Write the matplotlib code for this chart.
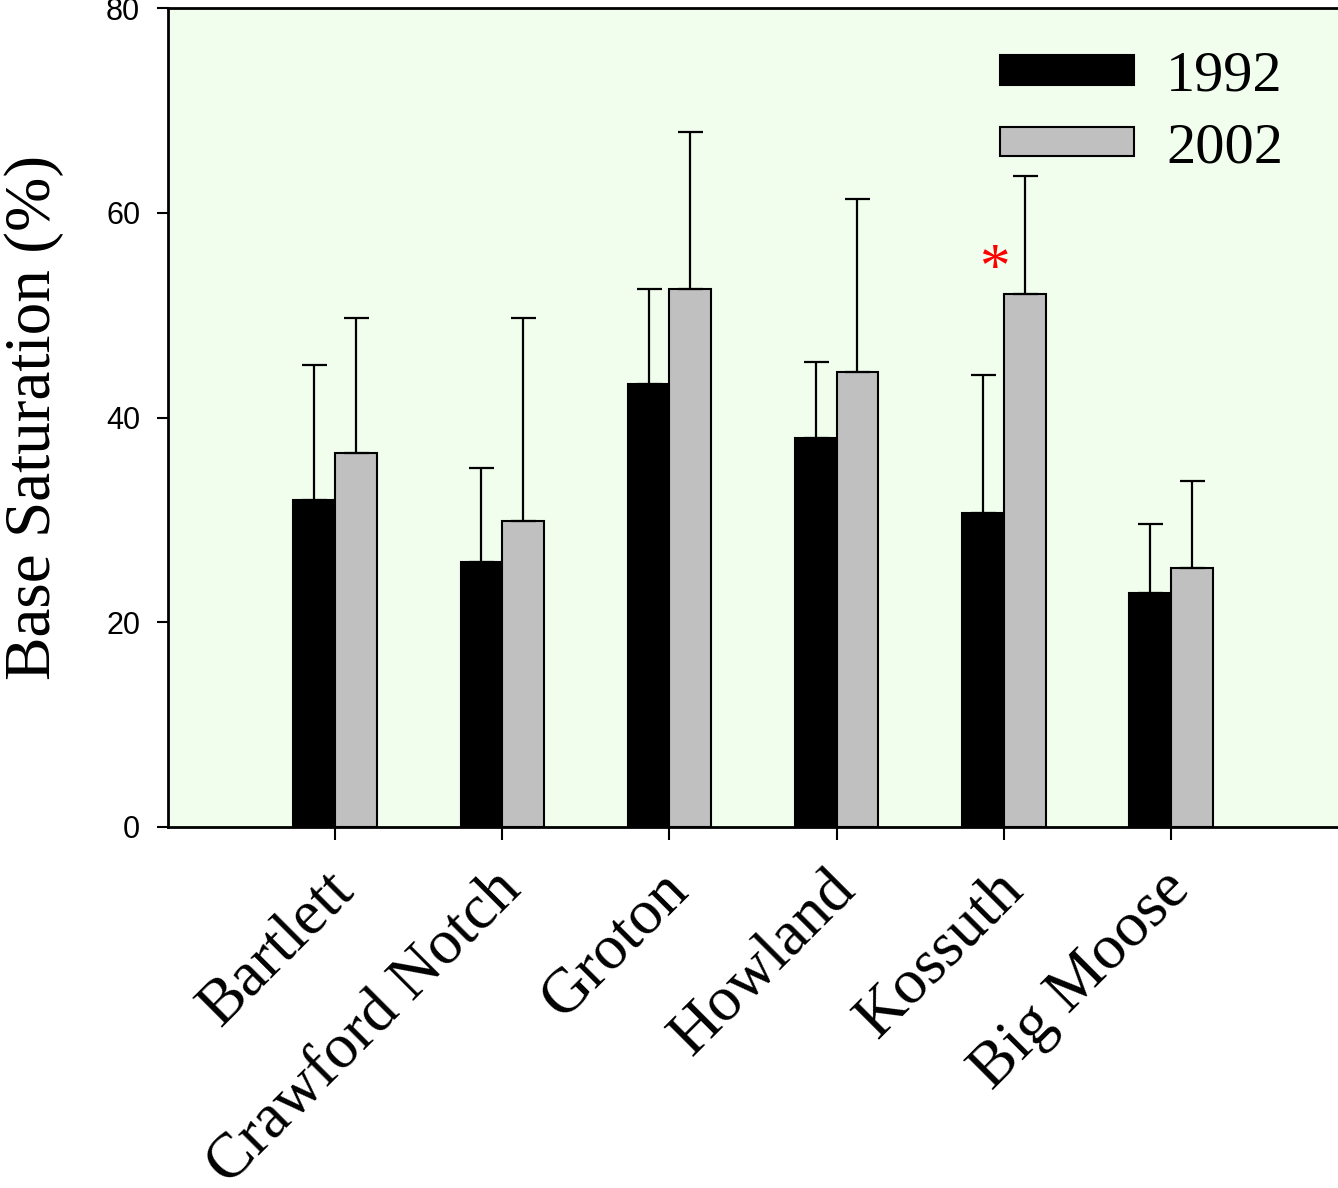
import numpy as np
from matplotlib import pyplot as plt
from matplotlib.patches import Patch
from matplotlib.transforms import ScaledTranslation

# Base saturation by site
sites = ['Bartlett', 'Crawford Notch', 'Groton', 'Howland', 'Kossuth', 'Big Moose']
bs_1992 = [31.9, 25.9, 43.3, 38.0, 30.7, 22.9]
err_1992 = [13.2, 9.2, 9.3, 7.4, 13.5, 6.7]
bs_2002 = [36.5, 29.9, 52.6, 44.4, 52.1, 25.3]
err_2002 = [13.2, 19.8, 15.3, 16.9, 11.5, 8.5]
yticks = [0, 20, 40, 60, 80]

serif = 'Liberation Serif'
sans = 'Liberation Sans'

fig = plt.figure(figsize=(13.38, 11.88), dpi=100)
ax = fig.add_axes([168 / 1338, 1 - 827 / 1188, 1 - 168 / 1338, (827 - 8) / 1188])
ax.set_facecolor('#F1FEEE')

x = np.arange(1, len(sites) + 1)
w = 0.25
ekw = dict(ecolor='black', elinewidth=1.6, capsize=9, capthick=1.6)
ax.bar(x - w / 2, bs_1992, w, color='black', edgecolor='black', linewidth=1.5,
       yerr=[np.zeros(len(sites)), err_1992], error_kw=ekw, zorder=2)
ax.bar(x + w / 2, bs_2002, w, color='#C0C0C0', edgecolor='black', linewidth=1.5,
       yerr=[np.zeros(len(sites)), err_2002], error_kw=ekw, zorder=2)

# significance marker
ax.text(4.946, 54.4, '*', color='red', fontsize=44, family=serif,
        ha='center', va='center')

ax.set_xlim(0, 7)
ax.set_ylim(0, 80)
ax.set_xticks(x)
ax.set_xticklabels(sites, rotation=45, ha='right', va='center',
                   rotation_mode='anchor', family=serif, fontsize=46)
ax.tick_params(axis='x', direction='out', length=9, width=1.5, pad=28)
# nudge the rotated labels a little to the right
shift = ScaledTranslation(0.1, -0.03, fig.dpi_scale_trans)
for lbl in ax.get_xticklabels():
    lbl.set_transform(lbl.get_transform() + shift)
ax.set_yticks(yticks)
ax.set_yticklabels([str(t) for t in yticks], family=sans, fontsize=22)
ax.tick_params(axis='y', direction='out', length=8, width=1.5, pad=12)

for side in ['left', 'bottom', 'top']:
    ax.spines[side].set_linewidth(2)
ax.spines['right'].set_visible(False)

ax.set_ylabel('Base Saturation (%)', family=serif, fontsize=47)
ax.yaxis.set_label_coords(-0.089, 0.5)

handles = [Patch(facecolor='black', edgecolor='black', linewidth=1.5),
           Patch(facecolor='#C0C0C0', edgecolor='black', linewidth=1.5)]
ax.legend(handles, ['1992', '2002'], loc='upper right', frameon=False,
          prop={'family': serif, 'size': 42}, handlelength=2.3,
          handleheight=0.4, handletextpad=0.55, labelspacing=0.34,
          bbox_to_anchor=(0.998, 1.012))

plt.savefig('out.png', dpi=100)
